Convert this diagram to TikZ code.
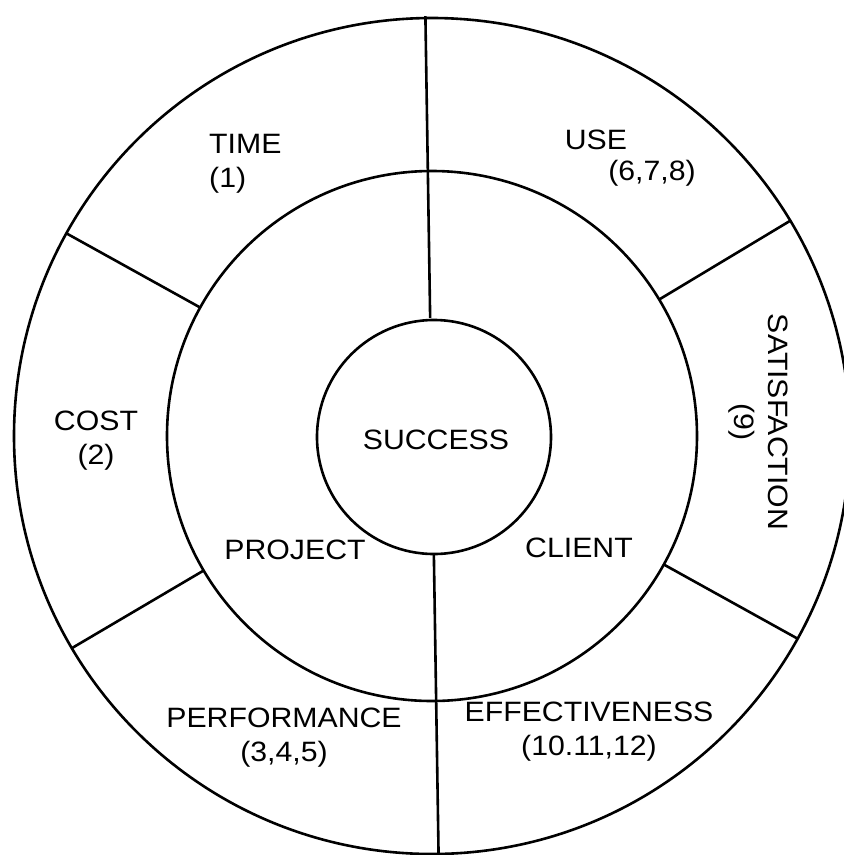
\documentclass[tikz,border=0pt]{standalone}
\usepackage{fontspec}
\setmainfont{Liberation Sans}[FakeStretch=1.08]
\begin{document}
\begin{tikzpicture}[x=1pt,y=-1pt,
  ring/.style={line width=2.6pt},
  lbl/.style={font=\fontsize{28}{34}\selectfont, align=center, inner sep=0pt}]
\useasboundingbox (0,0) rectangle (844,855);
\clip (0,0) rectangle (844,855);
\coordinate (c) at (432,436);
% circles
\draw[ring] (c) circle[radius=418];
\draw[ring] (c) circle[radius=265];
\node[ring, draw, circle, minimum size=234, inner sep=0pt] (success) at (434,437) {};
% spokes
\begin{scope}[shift={(c)}]
  \coordinate (topout) at (-90.9:420);
  \coordinate (topin) at (-90.9:118);
  \coordinate (botout) at (89.1:422);
  \coordinate (botin) at (89.1:118);
  \coordinate (ulo) at (-151:418);  \coordinate (uli) at (-151:265);
  \coordinate (llo) at (-210.5:418); \coordinate (lli) at (-210.5:265);
  \coordinate (uro) at (-31:418);   \coordinate (uri) at (-31:265);
  \coordinate (lro) at (29:418);    \coordinate (lri) at (29:265);
\end{scope}
\draw[ring] (topout) -- (topin);
\draw[ring] (botin) -- (botout);
\draw[ring] (ulo) -- (uli);
\draw[ring] (llo) -- (lli);
\draw[ring] (uro) -- (uri);
\draw[ring] (lro) -- (lri);
% labels
\node[lbl] (successlbl) at (436,440) {SUCCESS};
\node[lbl] (project) at (295,550) {PROJECT};
\node[lbl] (client) at (579,548) {CLIENT};
\node[lbl, align=left, anchor=west] (time) at (209,164) {TIME\\(1)};
\node[lbl] (use) at (596,140) {USE};
\node[lbl] (usenum) at (652,173) {(6,7,8)};
\node[lbl] (cost) at (96,441) {COST\\(2)};
\node[lbl, rotate=-90] (satisfaction) at (758,422) {SATISFACTION\\(9)};
\node[lbl] (performance) at (284,738) {PERFORMANCE\\(3,4,5)};
\node[lbl] (effectiveness) at (589,732) {EFFECTIVENESS\\(10.11,12)};
\end{tikzpicture}
\end{document}
